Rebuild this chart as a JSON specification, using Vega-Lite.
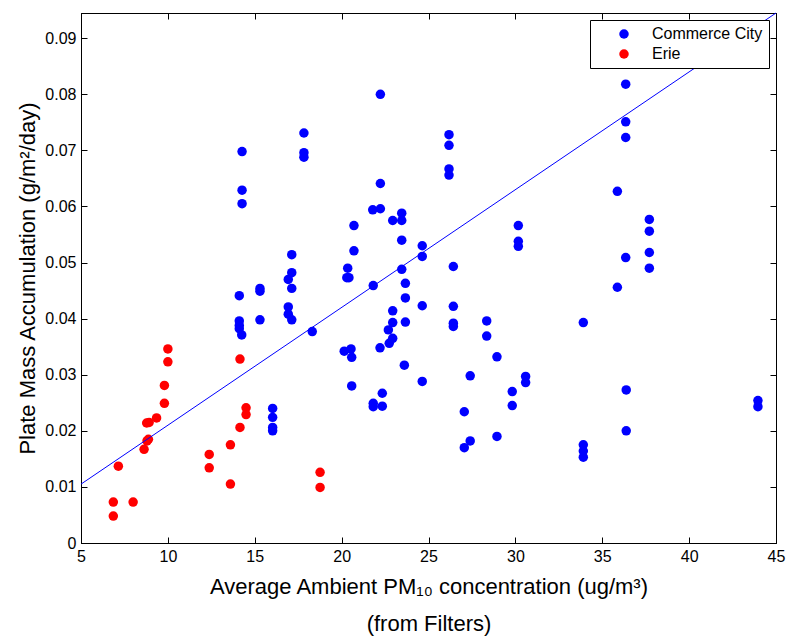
{
  "$schema": "https://vega.github.io/schema/vega-lite/v6.json",
  "autosize": {"type": "none"},
  "padding": {"left": 81, "top": 13, "right": 10, "bottom": 94},
  "width": 695,
  "height": 530,
  "config": {
    "font": "Liberation Sans",
    "view": {"stroke": "#000000", "strokeWidth": 1},
    "axis": {"grid": false, "domainColor": "#000000", "tickColor": "#000000", "labelColor": "#000000", "titleColor": "#000000", "labelFontSize": 16, "titleFontSize": 22, "titleFontWeight": "normal", "tickSize": -6, "labelFont": "Liberation Sans", "titleFont": "Liberation Sans"},
    "legend": {"labelFontSize": 16, "labelFont": "Liberation Sans", "labelColor": "#000000"}
  },
  "datasets": {
    "pts": [
      {"site": "Erie", "pm": 6.86, "mass": 0.0048},
      {"site": "Erie", "pm": 6.86, "mass": 0.0073},
      {"site": "Erie", "pm": 8.0, "mass": 0.0073},
      {"site": "Erie", "pm": 7.15, "mass": 0.0137},
      {"site": "Erie", "pm": 8.63, "mass": 0.0167},
      {"site": "Erie", "pm": 8.8, "mass": 0.0182},
      {"site": "Erie", "pm": 8.88, "mass": 0.0185},
      {"site": "Erie", "pm": 8.78, "mass": 0.0214},
      {"site": "Erie", "pm": 8.92, "mass": 0.0215},
      {"site": "Erie", "pm": 9.35, "mass": 0.0223},
      {"site": "Erie", "pm": 9.8, "mass": 0.0249},
      {"site": "Erie", "pm": 9.8, "mass": 0.0281},
      {"site": "Erie", "pm": 10.0, "mass": 0.0323},
      {"site": "Erie", "pm": 10.0, "mass": 0.0346},
      {"site": "Erie", "pm": 12.38, "mass": 0.0158},
      {"site": "Erie", "pm": 12.38, "mass": 0.0134},
      {"site": "Erie", "pm": 13.6, "mass": 0.0175},
      {"site": "Erie", "pm": 13.6, "mass": 0.0105},
      {"site": "Erie", "pm": 14.15, "mass": 0.0206},
      {"site": "Erie", "pm": 14.15, "mass": 0.0328},
      {"site": "Erie", "pm": 14.5, "mass": 0.0241},
      {"site": "Erie", "pm": 14.5, "mass": 0.0229},
      {"site": "Erie", "pm": 18.76, "mass": 0.0126},
      {"site": "Erie", "pm": 18.76, "mass": 0.0099},
      {"site": "Commerce City", "pm": 14.27, "mass": 0.0698},
      {"site": "Commerce City", "pm": 14.27, "mass": 0.0629},
      {"site": "Commerce City", "pm": 14.27, "mass": 0.0605},
      {"site": "Commerce City", "pm": 14.11, "mass": 0.0441},
      {"site": "Commerce City", "pm": 14.11, "mass": 0.0396},
      {"site": "Commerce City", "pm": 14.11, "mass": 0.0388},
      {"site": "Commerce City", "pm": 14.11, "mass": 0.0382},
      {"site": "Commerce City", "pm": 14.25, "mass": 0.0371},
      {"site": "Commerce City", "pm": 15.3, "mass": 0.0454},
      {"site": "Commerce City", "pm": 15.3, "mass": 0.0449},
      {"site": "Commerce City", "pm": 15.3, "mass": 0.0398},
      {"site": "Commerce City", "pm": 16.03, "mass": 0.024},
      {"site": "Commerce City", "pm": 16.03, "mass": 0.0224},
      {"site": "Commerce City", "pm": 16.03, "mass": 0.0206},
      {"site": "Commerce City", "pm": 16.03, "mass": 0.02},
      {"site": "Commerce City", "pm": 16.93, "mass": 0.047},
      {"site": "Commerce City", "pm": 16.93, "mass": 0.0421},
      {"site": "Commerce City", "pm": 16.93, "mass": 0.0408},
      {"site": "Commerce City", "pm": 17.13, "mass": 0.0514},
      {"site": "Commerce City", "pm": 17.13, "mass": 0.0482},
      {"site": "Commerce City", "pm": 17.13, "mass": 0.0454},
      {"site": "Commerce City", "pm": 17.13, "mass": 0.0398},
      {"site": "Commerce City", "pm": 17.83, "mass": 0.0731},
      {"site": "Commerce City", "pm": 17.83, "mass": 0.0696},
      {"site": "Commerce City", "pm": 17.83, "mass": 0.0688},
      {"site": "Commerce City", "pm": 18.31, "mass": 0.0377},
      {"site": "Commerce City", "pm": 20.15, "mass": 0.0342},
      {"site": "Commerce City", "pm": 20.3, "mass": 0.0473},
      {"site": "Commerce City", "pm": 20.42, "mass": 0.0473},
      {"site": "Commerce City", "pm": 20.35, "mass": 0.049},
      {"site": "Commerce City", "pm": 20.54, "mass": 0.0346},
      {"site": "Commerce City", "pm": 20.58, "mass": 0.0331},
      {"site": "Commerce City", "pm": 20.58, "mass": 0.028},
      {"site": "Commerce City", "pm": 20.71, "mass": 0.0566},
      {"site": "Commerce City", "pm": 20.71, "mass": 0.0521},
      {"site": "Commerce City", "pm": 21.79, "mass": 0.0594},
      {"site": "Commerce City", "pm": 21.82, "mass": 0.0459},
      {"site": "Commerce City", "pm": 21.82, "mass": 0.0249},
      {"site": "Commerce City", "pm": 21.82, "mass": 0.0243},
      {"site": "Commerce City", "pm": 22.23, "mass": 0.08},
      {"site": "Commerce City", "pm": 22.23, "mass": 0.0641},
      {"site": "Commerce City", "pm": 22.23, "mass": 0.0596},
      {"site": "Commerce City", "pm": 22.21, "mass": 0.0348},
      {"site": "Commerce City", "pm": 22.34, "mass": 0.0267},
      {"site": "Commerce City", "pm": 22.34, "mass": 0.0244},
      {"site": "Commerce City", "pm": 22.74, "mass": 0.0356},
      {"site": "Commerce City", "pm": 22.69, "mass": 0.038},
      {"site": "Commerce City", "pm": 22.94, "mass": 0.0575},
      {"site": "Commerce City", "pm": 22.94, "mass": 0.0414},
      {"site": "Commerce City", "pm": 22.94, "mass": 0.0393},
      {"site": "Commerce City", "pm": 22.94, "mass": 0.0365},
      {"site": "Commerce City", "pm": 23.46, "mass": 0.0588},
      {"site": "Commerce City", "pm": 23.46, "mass": 0.0575},
      {"site": "Commerce City", "pm": 23.46, "mass": 0.054},
      {"site": "Commerce City", "pm": 23.46, "mass": 0.0488},
      {"site": "Commerce City", "pm": 23.67, "mass": 0.0463},
      {"site": "Commerce City", "pm": 23.67, "mass": 0.0437},
      {"site": "Commerce City", "pm": 23.67, "mass": 0.0394},
      {"site": "Commerce City", "pm": 23.61, "mass": 0.0317},
      {"site": "Commerce City", "pm": 24.64, "mass": 0.053},
      {"site": "Commerce City", "pm": 24.64, "mass": 0.0511},
      {"site": "Commerce City", "pm": 24.64, "mass": 0.0423},
      {"site": "Commerce City", "pm": 24.64, "mass": 0.0288},
      {"site": "Commerce City", "pm": 26.18, "mass": 0.0728},
      {"site": "Commerce City", "pm": 26.18, "mass": 0.0709},
      {"site": "Commerce City", "pm": 26.18, "mass": 0.0667},
      {"site": "Commerce City", "pm": 26.18, "mass": 0.0656},
      {"site": "Commerce City", "pm": 26.43, "mass": 0.0493},
      {"site": "Commerce City", "pm": 26.43, "mass": 0.0422},
      {"site": "Commerce City", "pm": 26.43, "mass": 0.0392},
      {"site": "Commerce City", "pm": 26.43, "mass": 0.0386},
      {"site": "Commerce City", "pm": 27.06, "mass": 0.0234},
      {"site": "Commerce City", "pm": 27.06, "mass": 0.017},
      {"site": "Commerce City", "pm": 27.4, "mass": 0.0298},
      {"site": "Commerce City", "pm": 27.4, "mass": 0.0182},
      {"site": "Commerce City", "pm": 28.35, "mass": 0.0396},
      {"site": "Commerce City", "pm": 28.35, "mass": 0.0369},
      {"site": "Commerce City", "pm": 28.94, "mass": 0.0332},
      {"site": "Commerce City", "pm": 28.94, "mass": 0.019},
      {"site": "Commerce City", "pm": 29.82, "mass": 0.027},
      {"site": "Commerce City", "pm": 29.82, "mass": 0.0245},
      {"site": "Commerce City", "pm": 30.17, "mass": 0.0566},
      {"site": "Commerce City", "pm": 30.17, "mass": 0.0538},
      {"site": "Commerce City", "pm": 30.17, "mass": 0.0529},
      {"site": "Commerce City", "pm": 30.59, "mass": 0.0297},
      {"site": "Commerce City", "pm": 30.59, "mass": 0.0286},
      {"site": "Commerce City", "pm": 33.91, "mass": 0.0393},
      {"site": "Commerce City", "pm": 33.91, "mass": 0.0175},
      {"site": "Commerce City", "pm": 33.91, "mass": 0.0164},
      {"site": "Commerce City", "pm": 33.91, "mass": 0.0153},
      {"site": "Commerce City", "pm": 35.87, "mass": 0.0627},
      {"site": "Commerce City", "pm": 35.87, "mass": 0.0456},
      {"site": "Commerce City", "pm": 36.35, "mass": 0.0818},
      {"site": "Commerce City", "pm": 36.35, "mass": 0.0751},
      {"site": "Commerce City", "pm": 36.35, "mass": 0.0723},
      {"site": "Commerce City", "pm": 36.35, "mass": 0.0509},
      {"site": "Commerce City", "pm": 36.38, "mass": 0.0273},
      {"site": "Commerce City", "pm": 36.38, "mass": 0.02},
      {"site": "Commerce City", "pm": 37.71, "mass": 0.0577},
      {"site": "Commerce City", "pm": 37.71, "mass": 0.0556},
      {"site": "Commerce City", "pm": 37.71, "mass": 0.0518},
      {"site": "Commerce City", "pm": 37.71, "mass": 0.049},
      {"site": "Commerce City", "pm": 43.96, "mass": 0.0254},
      {"site": "Commerce City", "pm": 43.96, "mass": 0.0243}
    ],
    "fit": [
      {"pm": 5, "mass": 0.0105},
      {"pm": 45, "mass": 0.0945}
    ]
  },
  "layer": [
    {
      "data": {"name": "pts"},
      "mark": {"type": "point", "filled": true, "opacity": 1, "size": 90, "shape": "circle"},
      "encoding": {
        "x": {"field": "pm", "type": "quantitative", "scale": {"domain": [5, 45], "nice": false, "zero": false},
          "axis": {"orient": "bottom", "values": [5, 10, 15, 20, 25, 30, 35, 40, 45], "labelPadding": 11, "labelFlush": false,
            "title": ["Average Ambient PM₁₀ concentration (ug/m³)", "(from Filters)"], "titleLineHeight": 37, "titleX": 347.5, "titleY": 50, "titleBaseline": "alphabetic", "titleAlign": "center"}},
        "y": {"field": "mass", "type": "quantitative", "scale": {"domain": [0, 0.0945], "nice": false, "zero": false},
          "axis": {"orient": "left", "values": [0, 0.01, 0.02, 0.03, 0.04, 0.05, 0.06, 0.07, 0.08, 0.09], "format": ".2~f", "labelPadding": 11, "labelFlush": false,
            "title": "Plate Mass Accumulation (g/m²/day)", "titleX": -54, "titleY": 265, "titleBaseline": "middle", "titleAlign": "center", "titleAngle": -90}},
        "color": {"field": "site", "type": "nominal",
          "scale": {"domain": ["Commerce City", "Erie"], "range": ["#0000ff", "#ff0000"]},
          "legend": {"title": null, "orient": "none", "legendX": 509, "legendY": 7, "strokeColor": "#000000", "fillColor": "#ffffff", "padding": 6, "symbolOffset": 20, "labelOffset": 20, "rowPadding": 4, "symbolSize": 90, "symbolType": "circle", "symbolStrokeWidth": 0}}
      }
    },
    {
      "data": {"name": "fit"},
      "mark": {"type": "line", "color": "#0000ff", "strokeWidth": 1},
      "encoding": {
        "x": {"field": "pm", "type": "quantitative", "axis": {"orient": "top", "values": [5, 10, 15, 20, 25, 30, 35, 40, 45], "labels": false, "title": null}},
        "y": {"field": "mass", "type": "quantitative", "axis": {"orient": "right", "values": [0, 0.01, 0.02, 0.03, 0.04, 0.05, 0.06, 0.07, 0.08, 0.09], "labels": false, "title": null}}
      }
    }
  ],
  "resolve": {"axis": {"x": "independent", "y": "independent"}}
}
